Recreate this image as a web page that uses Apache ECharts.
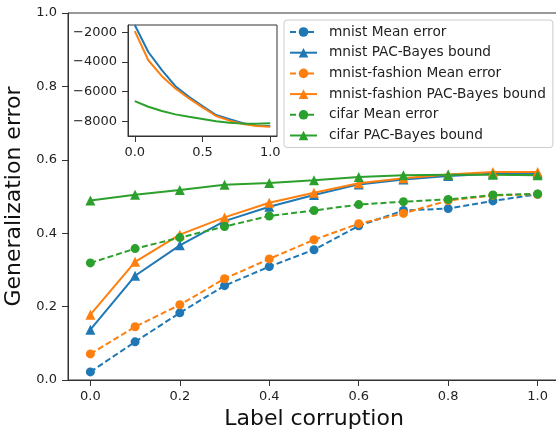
<!DOCTYPE html>
<html><head><meta charset="utf-8">
<script src="https://cdn.jsdelivr.net/npm/echarts@6/dist/echarts.min.js"></script>
<style>html,body{margin:0;padding:0;background:#fff}#c{width:556px;height:432px}</style>
</head><body><div id="c"></div>
<script>
var corruption = [0.0, 0.1, 0.2, 0.3, 0.4, 0.5, 0.6, 0.7, 0.8, 0.9, 1.0];
var mnistMean = [0.022, 0.104, 0.183, 0.257, 0.309, 0.355, 0.420, 0.462, 0.467, 0.488, 0.506];
var mnistBound = [0.137, 0.284, 0.367, 0.433, 0.472, 0.504, 0.533, 0.546, 0.556, 0.562, 0.563];
var fashionMean = [0.071, 0.145, 0.205, 0.276, 0.330, 0.382, 0.426, 0.454, 0.489, 0.503, 0.506];
var fashionBound = [0.178, 0.322, 0.396, 0.443, 0.483, 0.510, 0.536, 0.550, 0.560, 0.567, 0.567];
var cifarMean = [0.319, 0.358, 0.388, 0.418, 0.447, 0.462, 0.478, 0.486, 0.492, 0.504, 0.507];
var cifarBound = [0.489, 0.505, 0.518, 0.532, 0.537, 0.544, 0.553, 0.558, 0.559, 0.559, 0.558];
// inset: raw PAC-Bayes objective
var insetMnist = [-1500, -3320, -4550, -5630, -6340, -6970, -7575, -7865, -8135, -8290, -8315];
var insetFashion = [-1910, -3880, -4955, -5785, -6455, -7060, -7640, -7955, -8180, -8315, -8360];
var insetCifar = [-6635, -7015, -7305, -7530, -7690, -7845, -8000, -8090, -8155, -8160, -8135];
var mainYTicks = [0, 0.2, 0.4, 0.6, 0.8, 1.0];
var mainXTicks = [0, 0.2, 0.4, 0.6, 0.8, 1.0];
var insetYTicks = [-8000, -6000, -4000, -2000];
var insetXTicks = [0, 0.5, 1.0];

var C = {blue: '#1f77b4', orange: '#ff7f0e', green: '#2ca02c'};
function pairs(ys) { return corruption.map(function (x, i) { return [x, ys[i]]; }); }
var FONT = 'DejaVu Sans';
var AX = '#333';

function mainSeries(name, ys, color, dashed) {
  return {
    name: name, type: 'line', xAxisIndex: 0, yAxisIndex: 0,
    data: pairs(ys), symbol: dashed ? 'circle' : 'triangle',
    symbolSize: dashed ? 9 : 10,
    itemStyle: {color: color},
    lineStyle: {color: color, width: 2, type: dashed ? [6, 3] : 'solid'},
    emphasis: {disabled: true}, animation: false
  };
}
function insetSeries(name, ys, color) {
  return {
    name: name, type: 'line', xAxisIndex: 1, yAxisIndex: 1,
    data: pairs(ys), showSymbol: false, symbol: 'none',
    lineStyle: {color: color, width: 2}, itemStyle: {color: color},
    clip: true, emphasis: {disabled: true}, animation: false
  };
}
var fmtMinus = function (v) { return String(v).replace('-', '\u2212'); };
var fmt1 = function (v) { return Number(v).toFixed(1); };
function axis(extra) {
  var base = {
    type: 'value',
    axisLine: {show: true, onZero: false, lineStyle: {color: AX}},
    splitLine: {show: false}
  };
  for (var k in extra) base[k] = extra[k];
  return base;
}

var chart = echarts.init(document.getElementById('c'), null, {renderer: 'canvas'});
chart.setOption({
  backgroundColor: '#fff',
  animation: false,
  textStyle: {fontFamily: FONT},
  grid: [
    {left: 68, top: 13, right: -4, bottom: 52, outerBoundsMode: 'none', containLabel: false,
     show: true, borderColor: AX, borderWidth: 1, backgroundColor: 'transparent'},
    {left: 128, top: 25, width: 149, height: 111, outerBoundsMode: 'none', containLabel: false,
     show: true, borderColor: AX, borderWidth: 1, backgroundColor: 'transparent'}
  ],
  xAxis: [
    axis({gridIndex: 0, min: -0.05, max: 1.05,
     name: 'Label corruption', nameLocation: 'middle', nameGap: 26,
     nameTextStyle: {fontSize: 22, color: '#111', fontFamily: FONT},
     axisTick: {show: true, length: 6, customValues: mainXTicks, lineStyle: {color: AX}},
     axisLabel: {customValues: mainXTicks, formatter: fmt1, fontSize: 13, color: '#222', margin: 10, fontFamily: FONT}}),
    axis({gridIndex: 1, min: -0.05, max: 1.05,
     axisTick: {show: true, length: 6, customValues: insetXTicks, lineStyle: {color: AX}},
     axisLabel: {customValues: insetXTicks, formatter: fmt1, fontSize: 13, color: '#222', margin: 10, fontFamily: FONT}})
  ],
  yAxis: [
    axis({gridIndex: 0, min: 0, max: 1.0,
     name: 'Generalization error', nameLocation: 'middle', nameGap: 34,
     nameTextStyle: {fontSize: 22, color: '#111', fontFamily: FONT},
     axisTick: {show: true, length: 6, customValues: mainYTicks, lineStyle: {color: AX}},
     axisLabel: {customValues: mainYTicks, formatter: fmt1, fontSize: 13, color: '#222', margin: 11, fontFamily: FONT}}),
    axis({gridIndex: 1, min: -8990, max: -1500,
     axisTick: {show: true, length: 6, customValues: insetYTicks, lineStyle: {color: AX}},
     axisLabel: {customValues: insetYTicks, formatter: fmtMinus, fontSize: 13, color: '#222', margin: 11, fontFamily: FONT}})
  ],
  legend: {
    orient: 'vertical', left: 284, top: 20,
    padding: [5, 7, 5, 5],
    itemWidth: 27, itemHeight: 12, itemGap: 6.7,
    backgroundColor: 'rgba(255,255,255,0.8)', borderColor: '#ccc', borderWidth: 1, borderRadius: 3,
    textStyle: {fontSize: 13.7, color: '#222', fontFamily: FONT, padding: [0, 0, 0, 7]},
    data: ['mnist Mean error', 'mnist PAC-Bayes bound', 'mnist-fashion Mean error',
           'mnist-fashion PAC-Bayes bound', 'cifar Mean error', 'cifar PAC-Bayes bound']
  },
  series: [
    mainSeries('mnist Mean error', mnistMean, C.blue, true),
    mainSeries('mnist PAC-Bayes bound', mnistBound, C.blue, false),
    mainSeries('mnist-fashion Mean error', fashionMean, C.orange, true),
    mainSeries('mnist-fashion PAC-Bayes bound', fashionBound, C.orange, false),
    mainSeries('cifar Mean error', cifarMean, C.green, true),
    mainSeries('cifar PAC-Bayes bound', cifarBound, C.green, false),
    insetSeries('mnist inset', insetMnist, C.blue),
    insetSeries('fashion inset', insetFashion, C.orange),
    insetSeries('cifar inset', insetCifar, C.green)
  ]
});
</script></body></html>
